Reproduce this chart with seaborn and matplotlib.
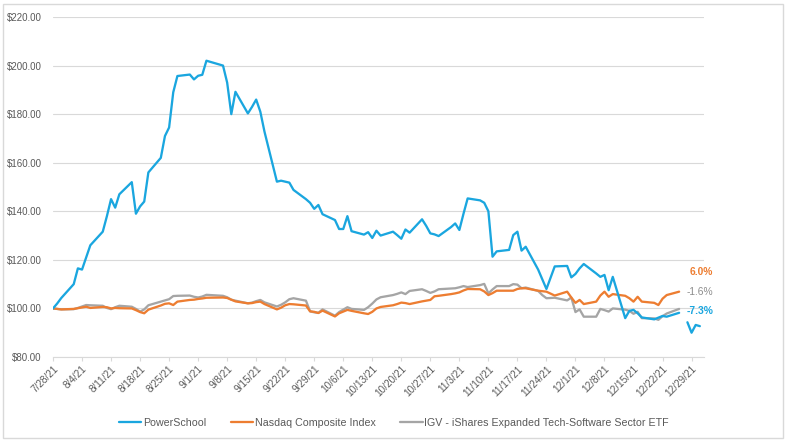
import numpy as np
import pandas as pd
import matplotlib
matplotlib.use("Agg")
import matplotlib.pyplot as plt
from matplotlib.lines import Line2D
from matplotlib.patches import Rectangle
from matplotlib.ticker import FuncFormatter
import seaborn as sns

# ---------------- data ----------------
dates = [
    "2021-07-28", "2021-07-29", "2021-07-30",
    "2021-08-02", "2021-08-03", "2021-08-04", "2021-08-05", "2021-08-06",
    "2021-08-09", "2021-08-10", "2021-08-11", "2021-08-12", "2021-08-13",
    "2021-08-16", "2021-08-17", "2021-08-18", "2021-08-19", "2021-08-20",
    "2021-08-23", "2021-08-24", "2021-08-25", "2021-08-26", "2021-08-27",
    "2021-08-30", "2021-08-31", "2021-09-01", "2021-09-02", "2021-09-03",
    "2021-09-07", "2021-09-08", "2021-09-09", "2021-09-10",
    "2021-09-13", "2021-09-14", "2021-09-15", "2021-09-16", "2021-09-17",
    "2021-09-20", "2021-09-21", "2021-09-22", "2021-09-23", "2021-09-24",
    "2021-09-27", "2021-09-28", "2021-09-29", "2021-09-30", "2021-10-01",
    "2021-10-04", "2021-10-05", "2021-10-06", "2021-10-07", "2021-10-08",
    "2021-10-11", "2021-10-12", "2021-10-13", "2021-10-14", "2021-10-15",
    "2021-10-18", "2021-10-19", "2021-10-20", "2021-10-21", "2021-10-22",
    "2021-10-25", "2021-10-26", "2021-10-27", "2021-10-28", "2021-10-29",
    "2021-11-01", "2021-11-02", "2021-11-03", "2021-11-04", "2021-11-05",
    "2021-11-08", "2021-11-09", "2021-11-10", "2021-11-11", "2021-11-12",
    "2021-11-15", "2021-11-16", "2021-11-17", "2021-11-18", "2021-11-19",
    "2021-11-22", "2021-11-23", "2021-11-24", "2021-11-26",
    "2021-11-29", "2021-11-30", "2021-12-01", "2021-12-02", "2021-12-03",
    "2021-12-06", "2021-12-07", "2021-12-08", "2021-12-09", "2021-12-10",
    "2021-12-13", "2021-12-14", "2021-12-15", "2021-12-16", "2021-12-17",
    "2021-12-20", "2021-12-21", "2021-12-22", "2021-12-23",
    "2021-12-26",
    "2021-12-27",
    "2021-12-28", "2021-12-29", "2021-12-30", "2021-12-31",
]

nan = np.nan

powerschool = [
    100, 102, 104.3,
    110, 116.5, 116, 121, 126,
    131.6, 138, 145, 141.5, 147,
    152, 139, 142, 144, 156,
    162, 171, 174.5, 189, 195.7,
    196.3, 194.3, 195.8, 196.2, 202,
    200, 193, 180, 189.2,
    180.3, 183, 186, 181, 172.8,
    152.2, 152.6, 152.2, 151.8, 148.8,
    145, 143.5, 141, 142.6, 138.8,
    136.4, 132.7, 132.7, 138, 131.8,
    130.4, 131.4, 129, 132, 130,
    131.6, 130.2, 128.7, 132.5, 131.2,
    136.7, 134, 130.9, 130.5, 129.8,
    133.5, 135, 132.3, 139, 145.3,
    144.5, 143.5, 140, 121.3, 123.5,
    124.1, 130.2, 131.6, 123.8, 125.4,
    116, 112, 108, 117.3,
    117.5, 112.8, 114.2, 116.5, 118.3,
    114.4, 113, 113.8, 107.5, 113,
    96, 99, 99.4, 98, 96.3,
    95.5, 96.2, 96.9, 96.6,
    98.2,
    nan,
    94.3, 90, 93.2, 92.7,
]

nasdaq = [
    100, 99.8, 99.6,
    99.8, 100.1, 100.4, 100.7, 100.2,
    100.6, 100.5, 100, 100.2, 100.1,
    100, 99.3, 98.5, 98, 99.5,
    101.2, 101.9, 102.1, 101.4, 102.8,
    103.5, 103.6, 103.9, 104.1, 104.4,
    104.5, 104.3, 103.6, 102.9,
    102.1, 102.2, 102.6, 102.8, 101.8,
    99.6, 100.3, 101.3, 101.8, 101.7,
    101.2, 98.8, 98.6, 98.1, 99.1,
    96.7, 98, 98.7, 99.4, 99,
    98, 97.7, 98.6, 100, 100.6,
    101.3, 101.8, 102.4, 102.2, 101.8,
    102.9, 103.2, 103.5, 105, 105.2,
    105.9, 106.2, 106.6, 107.4, 108,
    107.9, 107, 105.5, 106.3, 107.3,
    107.3, 107.3, 108, 108.3, 108.3,
    107.3, 107.1, 106.9, 105.3,
    106.9, 104.5, 102.3, 103.5, 101.8,
    102.8, 105.3, 106.9, 104.8, 105.9,
    105.2, 104.2, 102.8, 104.8, 102.8,
    102.3, 101.4, 104, 105.5,
    106.9,
    nan,
    nan, nan, nan, nan,
]

igv = [
    100, 99.8, 99.6,
    99.7, 100.2, 100.8, 101.4, 101.3,
    101.1, 100.2, 99.7, 100.5, 101.1,
    100.7, 99.8, 98.7, 99.6, 101.3,
    102.8, 103.3, 103.8, 105.1, 105.2,
    105.3, 104.8, 104.5, 104.9, 105.6,
    105.2, 104.6, 103.6, 103.2,
    102.1, 102.4, 103, 103.5, 102.5,
    100.8, 101.5, 102.5, 103.8, 104.2,
    103.2, 98.8, 98.4, 98.2, 99.6,
    97, 98.5, 99.5, 100.5, 99.8,
    99.4, 100.5, 102, 103.7, 104.6,
    105.5, 106, 106.6, 105.9, 107.2,
    107.9, 107.2, 106.4, 107, 107.9,
    108.2, 108.3, 108.7, 109.2, 108.8,
    109.6, 110.1, 106.2, 107.8, 109.2,
    109.2, 110, 109.8, 108.3, 108.6,
    107.2, 105.5, 104.2, 104.4,
    103.3, 104.5, 98.5, 99.6, 96.6,
    96.6, 99.8, 99.3, 98.7, 100,
    99.5, 99, 97.8, 98.6, 96,
    95.9, 95.3, 96.8, 97.9,
    99.8,
    nan,
    nan, nan, nan, nan,
]

series_names = ["PowerSchool", "Nasdaq Composite Index",
                "IGV - iShares Expanded Tech-Software Sector ETF"]
series_values = [powerschool, nasdaq, igv]
colors = ["#1AA6DF", "#ED7D31", "#A5A5A5"]

end_labels = ["6.0%", "-1.6%", "-7.3%"]
end_label_colors = ["#ED7D31", "#8C8C8C", "#1AA6DF"]
end_label_weights = ["bold", "normal", "bold"]

yticks = [80, 100, 120, 140, 160, 180, 200, 220]
xtick_start, xtick_end = "2021-07-28", "2021-12-29"

# ---------------- long-form frame (segments split at gaps) ----------------
frames = []
for name, vals in zip(series_names, series_values):
    v = np.array(vals, dtype=float)
    seg = np.cumsum(np.isnan(v))
    d = pd.DataFrame({"date": pd.to_datetime(dates), "value": v,
                      "series": name, "segment": seg})
    frames.append(d.dropna(subset=["value"]))
df = pd.concat(frames, ignore_index=True)

# ---------------- figure ----------------
sns.set_theme(style="white")
plt.rcParams["font.family"] = ["Liberation Sans", "DejaVu Sans"]

W, H = 788, 443
fig = plt.figure(figsize=(W / 100, H / 100), dpi=100)
ax = fig.add_axes([53 / W, 1 - 357 / H, (704 - 53) / W, 340 / H])

draw_order = [series_names[2], series_names[1], series_names[0]]
pal = dict(zip(series_names, colors))
LW = 1.65
for name in draw_order:
    sns.lineplot(data=df[df["series"] == name], x="date", y="value",
                 units="segment", estimator=None, color=pal[name],
                 linewidth=LW, legend=False, ax=ax)

ax.set_ylim(80, 220)
ax.set_yticks(yticks)
ax.yaxis.set_major_formatter(FuncFormatter(lambda v, p: f"${v:,.2f}"))
ax.set_xlim(pd.Timestamp("2021-07-28"), pd.Timestamp("2022-01-01"))
xt = pd.date_range(xtick_start, xtick_end, freq="7D")
ax.set_xticks(xt)
ax.set_xticklabels([f"{d.month}/{d.day}/{d.strftime('%y')}" for d in xt])

ax.grid(axis="y", color="#D9D9D9", linewidth=0.8)
ax.grid(axis="x", visible=False)
for s in ["left", "right", "top"]:
    ax.spines[s].set_visible(False)
ax.spines["bottom"].set_color("#D9D9D9")
ax.spines["bottom"].set_linewidth(0.8)

ax.tick_params(axis="y", length=0, pad=8, labelsize=7.0, labelcolor="#595959")
ax.tick_params(axis="x", length=3, width=0.8, color="#D9D9D9", pad=2,
               labelsize=7.2, labelcolor="#595959", bottom=True)
for lab in ax.get_xticklabels():
    lab.set_rotation(45)
    lab.set_ha("right")
    lab.set_rotation_mode("anchor")
ax.set_xlabel("")
ax.set_ylabel("")

# end labels
label_y = [(357 - 272) / 340, (357 - 292) / 340, (357 - 310.5) / 340]
label_x = [(690 - 53) / 651, (687 - 53) / 651, (687 - 53) / 651]
for t, c, w, xx, yy in zip(end_labels, end_label_colors, end_label_weights,
                           label_x, label_y):
    ax.text(xx, yy, t, transform=ax.transAxes, color=c, fontweight=w,
            fontsize=7.4, va="center", ha="left", clip_on=False)

# legend
handles = [Line2D([0], [0], color=c, linewidth=LW) for c in colors]
fig.legend(handles, series_names, loc="center", bbox_to_anchor=(0.5, 1 - 423 / H),
           ncol=3, frameon=False, fontsize=7.7, labelcolor="#595959",
           handlelength=2.1, handletextpad=0.15, columnspacing=2.3)

# outer border
fig.patches.append(Rectangle((3 / W, 1 - 438 / H), 780 / W, 434 / H,
                             transform=fig.transFigure, fill=False,
                             edgecolor="#D9D9D9", linewidth=1.0))

fig.savefig("out.png", dpi=100, facecolor="white")
